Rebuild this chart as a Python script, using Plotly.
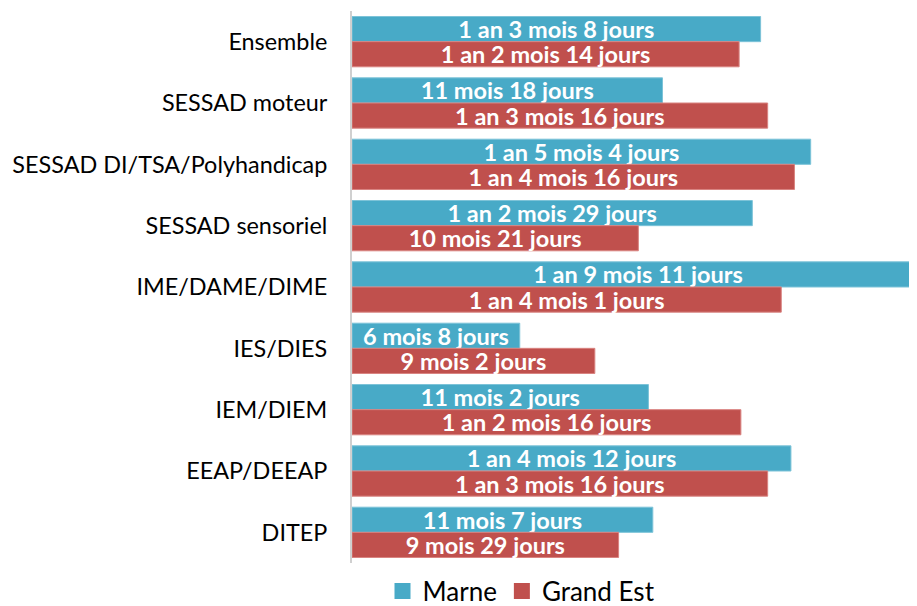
import plotly.graph_objects as go

categories = ["Ensemble", "SESSAD moteur", "SESSAD DI/TSA/Polyhandicap", "SESSAD sensoriel",
              "IME/DAME/DIME", "IES/DIES", "IEM/DIEM", "EEAP/DEEAP", "DITEP"]

# durations as (years, months, days)
marne_y = [1, 0, 1, 1, 1, 0, 0, 1, 0]
marne_m = [3, 11, 5, 2, 9, 6, 11, 4, 11]
marne_d = [8, 18, 4, 29, 11, 8, 2, 12, 7]

ge_y = [1, 1, 1, 0, 1, 0, 1, 1, 0]
ge_m = [2, 3, 4, 10, 4, 9, 2, 3, 9]
ge_d = [14, 16, 16, 21, 1, 2, 16, 16, 29]

series_names = ["Marne", "Grand Est"]
series_colors = ["#48aac7", "#c0504d"]
series_edges = ["#7cc3d8", "#d98380"]


def to_days(y, m, d):
    return [a * 365 + b * 30.4375 + c for a, b, c in zip(y, m, d)]


def to_label(y, m, d):
    out = []
    for a, b, c in zip(y, m, d):
        parts = []
        if a:
            parts.append(f"{a} an")
        parts.append(f"{b} mois")
        parts.append(f"{c} jours")
        out.append(" ".join(parts))
    return out


FONT = "Lato, 'Open Sans', sans-serif"
series = [(marne_y, marne_m, marne_d), (ge_y, ge_m, ge_d)]

fig = go.Figure()
for name, col, edge, (yy, mm, dd) in zip(series_names, series_colors, series_edges, series):
    fig.add_trace(go.Bar(
        name=name, y=categories, x=to_days(yy, mm, dd), orientation="h",
        text=to_label(yy, mm, dd), textposition="inside", insidetextanchor="middle",
        constraintext="none", cliponaxis=True, showlegend=False,
        textfont=dict(family=FONT, size=23.5, color="white", weight="bold"),
        marker=dict(color=col, line=dict(color=edge, width=1)),
    ))
# legend entries with larger square swatches
for name, col in zip(series_names, series_colors):
    fig.add_trace(go.Scatter(
        name=name, x=[None], y=[None], mode="markers",
        marker=dict(symbol="square", size=18, color=col), showlegend=True,
    ))

# the page body has an 8px default margin; compensate so the plot sits where the reference does
fig.update_layout(
    width=909, height=598,
    barmode="group", bargap=0.18, bargroupgap=0,
    plot_bgcolor="white", paper_bgcolor="white",
    margin=dict(l=344, r=0, t=3, b=43, autoexpand=False),
    font=dict(family=FONT, size=23, color="#000000"),
    showlegend=True,
    legend=dict(orientation="h", x=0.3, xanchor="center", yref="container", y=0.025,
                yanchor="middle",
                font=dict(family=FONT, size=26, color="#000000"), traceorder="normal",
                itemwidth=30, tracegroupgap=0),
    uniformtext=dict(minsize=23.5, mode="show"),
)
fig.update_xaxes(range=[0, 642], showticklabels=False, showgrid=False, zeroline=False,
                 showline=False)
fig.update_yaxes(autorange="reversed", showline=True, linecolor="#d0d0d0", linewidth=2,
                 ticks="", ticklabelstandoff=18, tickfont=dict(family=FONT, size=23.4, color="#000"))

fig.write_html("out.html")
